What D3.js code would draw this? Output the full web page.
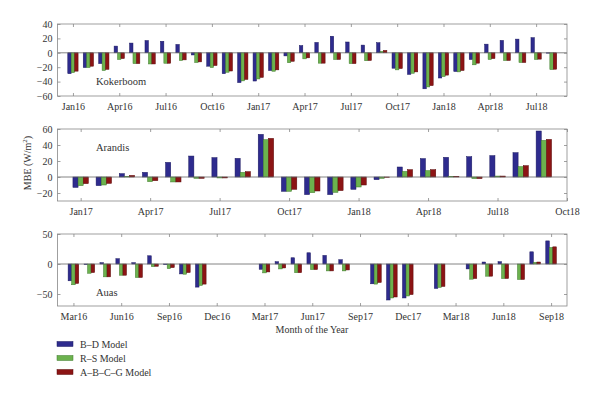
<!DOCTYPE html>
<html>
<head>
<meta charset="utf-8">
<script src="https://cdn.jsdelivr.net/npm/d3@7"></script>
<style>
  body { margin: 0; background: #fff; }
  svg { display: block; font-family: "Liberation Serif", "DejaVu Serif", serif; }
</style>
</head>
<body>
<div id="chart"></div>
<script>
const seriesNames = ['B–D Model', 'R–S Model', 'A–B–C–G Model'];
const seriesColors = ['#2e2b8e', '#6cb24e', '#8c1414'];
const seriesEdges = ['#1a1860', '#3f7a2c', '#5a0a0a'];

// Kokerboom
const kokMonths = ['Jan16','Feb16','Mar16','Apr16','May16','Jun16','Jul16','Aug16','Sep16','Oct16','Nov16','Dec16',
  'Jan17','Feb17','Mar17','Apr17','May17','Jun17','Jul17','Aug17','Sep17','Oct17','Nov17','Dec17',
  'Jan18','Feb18','Mar18','Apr18','May18','Jun18','Jul18','Aug18'];
const kokBD = [-29, -20.5, -15, 9.3, 13.5, 17, 16, 11.6, -3, -18.6, -29, -41.4,
  -39.2, -24.6, -4.3, 10, 14.4, 23, 15, 10.7, 14, -21.4, -30, -50,
  -35, -26, -9.3, 12, 17.2, 19, 21, -0.5];
const kokRS = [-27.5, -20.5, -24.6, -9.3, -15, -15.5, -14.5, -10.7, -13.5, -20.5, -27, -39,
  -36.3, -25.6, -13.8, -8.4, -14.4, -9.3, -15, -11, 2, -23.7, -28.4, -47.4,
  -33, -26.5, -16.7, -9.3, -10.7, -13.5, -9.3, -23.3];
const kokABCG = [-25.5, -18.6, -23, -8, -15, -15.5, -14.5, -9.8, -12.6, -17.7, -25.3, -37,
  -34.2, -23.7, -11.8, -7, -14.4, -9.3, -15, -10.7, 3.3, -21.9, -26.5, -45.6,
  -31, -24.6, -14.4, -8, -10.7, -13.5, -8.8, -22.8];
const kokTicks = ['Jan16','Apr16','Jul16','Oct16','Jan17','Apr17','Jul17','Oct17','Jan18','Apr18','Jul18'];
const kokYTicks = [-60, -40, -20, 0, 20, 40];

// Arandis
const araMonths = ['Jan17','Feb17','Mar17','Apr17','May17','Jun17','Jul17','Aug17','Sep17','Oct17','Nov17','Dec17',
  'Jan18','Feb18','Mar18','Apr18','May18','Jun18','Jul18','Aug18','Sep18'];
const araBD = [-13, -10.8, 4.2, 5.8, 18.3, 26.2, 24.2, 23.3, 53.3, -17.9, -22, -22,
  -15.4, -3.3, 12.5, 23, 24.6, 25.4, 26.7, 30.4, 57.5];
const araRS = [-10.8, -10, 0.5, -5.8, -6.2, -1.7, -1.2, 5.8, 46.7, -17.9, -19.6, -19.2,
  -12.5, -1.7, 7, 8, 0.8, -2, 1.2, 13, 45.8];
const araABCG = [-8.3, -8, 2, -4.6, -6.2, -1.7, -1.2, 6.7, 48.3, -15.4, -17.5, -17,
  -10, -0.4, 9.2, 9.2, 0.8, -2, 1.2, 14.2, 47];
const araTicks = ['Jan17','Apr17','Jul17','Oct17','Jan18','Apr18','Jul18','Oct18'];
const araYTicks = [-20, 0, 20, 40, 60];

// Auas
const auaMonths = ['Mar16','Apr16','May16','Jun16','Jul16','Aug16','Sep16','Oct16','Nov16','Dec16','Jan17','Feb17',
  'Mar17','Apr17','May17','Jun17','Jul17','Aug17','Sep17','Oct17','Nov17','Dec17','Jan18','Feb18',
  'Mar18','Apr18','May18','Jun18','Jul18','Aug18','Sep18'];
const auaBD = [-28, -1, 2.2, 8.8, 2.2, 13.7, -1, -16.5, -38.5, null, null, null,
  -8.8, 3.8, 10.4, 18.7, 14.3, 7.1, null, -33, -60, -56.6, null, -40.7,
  null, -8.2, 3.3, 3.8, 0, 20.3, 38.5];
const auaRS = [-34.6, -15.4, -21.4, -18.7, -22.5, -4.4, -7.7, -17, -35.7, null, null, null,
  -14.8, -8.2, -14.5, -9.3, -11.5, -11.5, null, -33.5, -56.6, -53.3, null, -39,
  null, -25.3, -20.3, -24.2, -25.8, 2.7, 27.5];
const auaABCG = [-32.4, -14.3, -21.4, -18.7, -22.5, -3.8, -6, -14.3, -33.5, null, null, null,
  -13.2, -6.6, -14.5, -9.3, -11.5, -9.9, null, -30.8, -55, -51, null, -37.4,
  null, -24.2, -20.3, -24.2, -25.8, 3.3, 28.6];
const auaTicks = ['Mar16','Jun16','Sep16','Dec16','Mar17','Jun17','Sep17','Dec17','Mar18','Jun18','Sep18'];
const auaYTicks = [-50, 0, 50];

// full month list, used to pad each axis one month on each side
const allMonths = [];
['15','16','17','18'].forEach(yr => {
  ['Jan','Feb','Mar','Apr','May','Jun','Jul','Aug','Sep','Oct','Nov','Dec'].forEach(m => allMonths.push(m + yr));
});

const width = 600, height = 397;
const left = 57.5, right = 567;

const svg = d3.select('#chart').append('svg')
  .attr('width', width)
  .attr('height', height);

const panels = [
  { name: 'Kokerboom', months: kokMonths, series: [kokBD, kokRS, kokABCG], ticks: kokTicks,
    yTicks: kokYTicks, yDomain: [-60, 40], top: 24, bottom: 96, labelY: 85 },
  { name: 'Arandis', months: araMonths, series: [araBD, araRS, araABCG], ticks: araTicks,
    yTicks: araYTicks, yDomain: [-30, 60], top: 129, bottom: 201, labelY: 151 },
  { name: 'Auas', months: auaMonths, series: [auaBD, auaRS, auaABCG], ticks: auaTicks,
    yTicks: auaYTicks, yDomain: [-70, 50], top: 234, bottom: 306, labelY: 296 }
];

const fmt = d => d < 0 ? '\u2212' + Math.abs(d) : String(d);

panels.forEach(p => {
  const first = allMonths.indexOf(p.months[0]) - 1;
  const last = allMonths.indexOf(p.months[p.months.length - 1]) + 1;
  const x = d3.scalePoint()
    .domain(allMonths.slice(first, last + 1))
    .range([left, right]);
  const step = x.step();
  const xSub = d3.scaleBand()
    .domain(d3.range(seriesNames.length))
    .range([-step / 3, step / 3]);
  const y = d3.scaleLinear().domain(p.yDomain).range([p.bottom, p.top]);

  const g = svg.append('g');

  // bars
  const rows = [];
  p.months.forEach((m, i) => {
    p.series.forEach((s, k) => {
      if (s[i] !== null) rows.push({ month: m, k: k, value: s[i] });
    });
  });
  g.selectAll('rect.bar')
    .data(rows)
    .enter()
    .append('rect')
    .attr('class', 'bar')
    .attr('x', d => x(d.month) + xSub(d.k))
    .attr('width', xSub.bandwidth())
    .attr('y', d => y(Math.max(0, d.value)))
    .attr('height', d => Math.abs(y(d.value) - y(0)))
    .attr('fill', d => seriesColors[d.k])
    .attr('stroke', d => seriesEdges[d.k])
    .attr('stroke-width', 0.5);

  // baseline
  g.append('line')
    .attr('x1', left).attr('x2', right)
    .attr('y1', y(0)).attr('y2', y(0))
    .attr('stroke', '#666')
    .attr('stroke-width', 0.8);

  // box
  g.append('rect')
    .attr('x', left).attr('y', p.top)
    .attr('width', right - left).attr('height', p.bottom - p.top)
    .attr('fill', 'none')
    .attr('stroke', '#888')
    .attr('stroke-width', 0.8);

  // x axis, ticks pointing inward, plus mirrored top ticks
  const xAxis = g.append('g')
    .attr('transform', `translate(0,${p.bottom})`)
    .call(d3.axisBottom(x).tickValues(p.ticks).tickSizeInner(-3).tickSizeOuter(0).tickPadding(7));
  g.append('g')
    .attr('transform', `translate(0,${p.top})`)
    .call(d3.axisTop(x).tickValues(p.ticks).tickSizeInner(-3).tickSizeOuter(0).tickFormat(''));

  const yAxis = g.append('g')
    .attr('transform', `translate(${left},0)`)
    .call(d3.axisLeft(y).tickValues(p.yTicks).tickSizeInner(-3).tickSizeOuter(0).tickPadding(5).tickFormat(fmt));
  g.append('g')
    .attr('transform', `translate(${right},0)`)
    .call(d3.axisRight(y).tickValues(p.yTicks).tickSizeInner(-3).tickSizeOuter(0).tickFormat(''));

  g.selectAll('.domain').remove();
  g.selectAll('.tick line').attr('stroke', '#888').attr('stroke-width', 0.8);
  g.selectAll('.tick text')
    .attr('fill', '#333')
    .style('font-family', '"Liberation Serif", "DejaVu Serif", serif')
    .style('font-size', '10px');

  g.append('text')
    .attr('x', 96)
    .attr('y', p.labelY)
    .attr('fill', '#333')
    .style('font-size', '10.5px')
    .text(p.name);
});

// y label
svg.append('text')
  .attr('transform', 'translate(31,163) rotate(-90)')
  .attr('text-anchor', 'middle')
  .attr('fill', '#333')
  .style('font-size', '10px')
  .html('MBE (W/m<tspan baseline-shift="super" font-size="7px">2</tspan>)');

// x label
svg.append('text')
  .attr('x', 312)
  .attr('y', 333)
  .attr('text-anchor', 'middle')
  .attr('fill', '#333')
  .style('font-size', '10px')
  .text('Month of the Year');

// legend
const legend = svg.append('g')
  .selectAll('g')
  .data(seriesNames)
  .enter()
  .append('g')
  .attr('transform', (d, i) => `translate(57,${344 + i * 14})`);
legend.append('rect')
  .attr('x', 0).attr('y', -2.5)
  .attr('width', 16).attr('height', 5)
  .attr('fill', (d, i) => seriesColors[i])
  .attr('stroke', (d, i) => seriesEdges[i])
  .attr('stroke-width', 0.5);
legend.append('text')
  .attr('x', 23)
  .attr('y', 3.5)
  .attr('fill', '#333')
  .style('font-size', '10px')
  .text(d => d);
</script>
</body>
</html>
